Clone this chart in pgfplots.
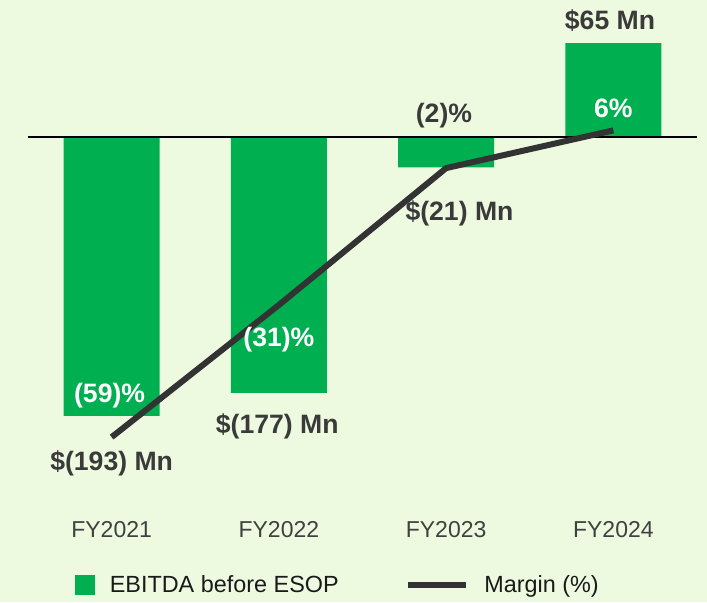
\documentclass[border=0pt]{standalone}
\usepackage{pgfplots}
\pgfplotsset{compat=1.18}
\usepackage{fontspec}
\setmainfont{Liberation Sans}
\definecolor{bgcol}{RGB}{238,250,224}
\definecolor{barcol}{RGB}{0,176,80}
\definecolor{linecol}{RGB}{51,51,51}
\definecolor{lblcol}{RGB}{58,58,58}
\definecolor{tickcol}{RGB}{64,64,64}
\definecolor{legcol}{RGB}{26,26,26}
\begin{document}
\begin{tikzpicture}
\fill[bgcol] (0,0) rectangle (353.5pt,301pt);
\begin{axis}[
  at={(14pt,56pt)}, anchor=south west,
  scale only axis, width=334.5pt, height=240pt,
  xmin=-0.5, xmax=3.5, ymin=-244.3, ymax=87.9,
  axis line style={draw=none},
  ytick=\empty,
  xtick={0,1,2,3},
  xticklabels={FY2021,FY2022,FY2023,FY2024},
  major tick length=0pt,
  xticklabel style={font=\fontsize{11.5}{13}\selectfont, text=tickcol, inner sep=0pt, anchor=north, yshift=-15.5pt},
  clip=false,
]
\addplot[ybar, bar width=0.574, fill=barcol, draw=none] coordinates {(0,-193) (1,-177) (2,-21) (3,65)};
\draw[black, line width=1.1pt] ({rel axis cs:0,0}|-{axis cs:0,0}) -- ({rel axis cs:1,0}|-{axis cs:0,0});
\end{axis}
\begin{axis}[
  at={(14pt,56pt)}, anchor=south west,
  scale only axis, width=334.5pt, height=240pt,
  xmin=-0.5, xmax=3.5, ymin=-70.2, ymax=31.5,
  hide axis,
  clip=false,
  legend columns=2,
  legend style={at={(0.0703,-0.198)}, anchor=west, draw=none, fill=none,
    inner sep=0pt, outer sep=0pt,
    font=\fontsize{11.7}{13}\selectfont, text=legcol,
    nodes={inner sep=0pt, anchor=west},
    /tikz/every odd column/.append style={column sep=7.5pt},
    /tikz/every even column/.append style={column sep=33pt}},
]
\addlegendimage{legend image code/.code={\fill[barcol] (0pt,-4.6pt) rectangle (9.5pt,4.6pt);}}
\addlegendentry{EBITDA before ESOP}
\addplot[color=linecol, line width=3pt, mark=none,
  legend image code/.code={\draw[linecol, line width=3.3pt] (0pt,0pt) -- (29pt,0pt);}]
  coordinates {(0,-59) (1,-31) (2,-2) (3,6)};
\addlegendentry{Margin (\%)}
\begin{scope}[every node/.style={inner sep=0pt, font=\fontsize{13.3}{15}\selectfont\bfseries}]
\node[text=lblcol] at (axis cs:2.98,29.26) {\$65 Mn};
\node[text=white] at (axis cs:3,10.72) {6\%};
\node[text=lblcol] at (axis cs:1.987,9.03) {(2)\%};
\node[text=lblcol] at (axis cs:2.08,-11.5) {\$(21) Mn};
\node[text=white] at (axis cs:1,-38.4) {(31)\%};
\node[text=lblcol] at (axis cs:0.99,-56.76) {\$(177) Mn};
\node[text=white] at (axis cs:-0.012,-50.3) {(59)\%};
\node[text=lblcol] at (axis cs:0,-64.6) {\$(193) Mn};
\end{scope}
\end{axis}
\end{tikzpicture}
\end{document}
